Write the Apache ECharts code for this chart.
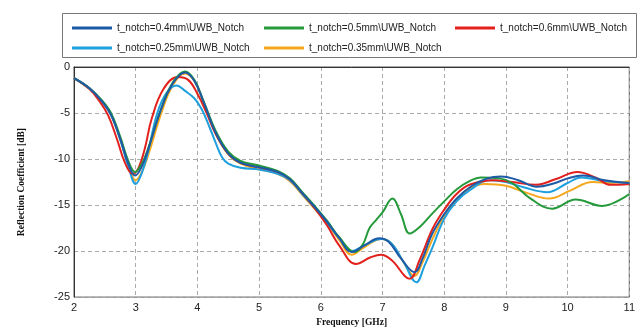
<!DOCTYPE html>
<html>
<head>
<meta charset="utf-8">
<script src="https://cdn.jsdelivr.net/npm/echarts@6/dist/echarts.min.js"></script>
<style>
  html, body { margin: 0; padding: 0; background: #fff; }
  #chart { width: 638px; height: 333px; }
</style>
</head>
<body>
<div id="chart"></div>
<script>
// frequency [GHz], reflection coefficient [dB]
const names = [
  't_notch=0.4mm\\UWB_Notch',
  't_notch=0.5mm\\UWB_Notch',
  't_notch=0.6mm\\UWB_Notch',
  't_notch=0.25mm\\UWB_Notch',
  't_notch=0.35mm\\UWB_Notch'
];

const notch04 = [
  [2, -1.2], [2.25, -2.3], [2.45, -3.7], [2.6, -5.2], [2.75, -7.8], [2.88, -10.5], [2.99, -11.8],
  [3.1, -10.8], [3.2, -9.0], [3.4, -4.8], [3.6, -1.8], [3.8, -0.6], [3.95, -1.5], [4.1, -3.8],
  [4.3, -7.2], [4.5, -9.4], [4.7, -10.4], [5.0, -10.9], [5.3, -11.4], [5.5, -12.2], [5.7, -13.7],
  [5.9, -15.2], [6.1, -16.8], [6.3, -18.6], [6.5, -20.1], [6.7, -19.4], [6.95, -18.6], [7.1, -19.0],
  [7.3, -20.8], [7.52, -22.3], [7.65, -20.8], [7.8, -18.2], [8.0, -16.0], [8.2, -14.3], [8.45, -12.9],
  [8.7, -12.1], [8.92, -11.9], [9.2, -12.3], [9.5, -13.0], [9.8, -12.6], [10.0, -12.1], [10.25, -11.8],
  [10.6, -12.3], [11, -12.6]
];

const notch05 = [
  [2, -1.2], [2.25, -2.3], [2.45, -3.6], [2.6, -5.0], [2.75, -7.6], [2.88, -10.2], [2.99, -11.4],
  [3.1, -10.5], [3.2, -8.9], [3.4, -4.8], [3.6, -1.7], [3.8, -0.5], [3.95, -1.4], [4.1, -3.7],
  [4.3, -7.0], [4.5, -9.2], [4.7, -10.2], [5.0, -10.7], [5.3, -11.3], [5.5, -12.1], [5.7, -13.6],
  [5.9, -15.1], [6.1, -16.7], [6.3, -18.5], [6.55, -20.1], [6.68, -19.3], [6.79, -17.5], [6.9, -16.6],
  [7.0, -15.8], [7.16, -14.3], [7.3, -16.0], [7.44, -18.1], [7.6, -17.4], [7.81, -15.9], [8.0, -14.6],
  [8.2, -13.3], [8.41, -12.4], [8.6, -12.0], [8.9, -12.1], [9.1, -12.6], [9.4, -14.3], [9.75, -15.4],
  [10.13, -14.4], [10.56, -15.1], [11, -13.8]
];

const notch06 = [
  [2, -1.2], [2.25, -2.4], [2.4, -3.6], [2.55, -5.2], [2.7, -7.9], [2.82, -10.3], [2.95, -11.6],
  [3.05, -10.9], [3.15, -8.8], [3.26, -5.6], [3.45, -2.4], [3.68, -1.1], [3.85, -1.4], [4.0, -2.9],
  [4.15, -5.0], [4.3, -7.3], [4.5, -9.4], [4.7, -10.4], [5.0, -10.9], [5.3, -11.4], [5.5, -12.2],
  [5.7, -13.7], [5.9, -15.3], [6.1, -17.2], [6.3, -19.4], [6.57, -21.4], [6.8, -20.7], [6.98, -20.4],
  [7.15, -21.0], [7.44, -23.0], [7.6, -21.0], [7.81, -17.6], [8.0, -15.5], [8.2, -13.8], [8.41, -12.8],
  [8.8, -12.3], [9.1, -12.5], [9.49, -12.8], [9.8, -12.2], [10.16, -11.4], [10.45, -12.0], [10.7, -12.8],
  [11, -12.7]
];

const notch025 = [
  [2, -1.2], [2.25, -2.3], [2.45, -3.7], [2.6, -5.2], [2.75, -7.9], [2.88, -10.8], [3.0, -12.7],
  [3.1, -11.5], [3.2, -9.2], [3.35, -5.0], [3.5, -2.8], [3.66, -2.0], [3.8, -2.6], [3.95, -3.4],
  [4.07, -4.6], [4.2, -6.6], [4.3, -8.3], [4.4, -9.8], [4.5, -10.5], [4.7, -10.95], [5.0, -11.15],
  [5.3, -11.6], [5.5, -12.3], [5.7, -13.8], [5.9, -15.3], [6.1, -16.9], [6.3, -18.6], [6.5, -20.0],
  [6.7, -19.4], [6.98, -18.7], [7.15, -19.2], [7.35, -21.3], [7.55, -23.4], [7.68, -21.6], [7.81, -19.6],
  [8.0, -16.5], [8.2, -14.6], [8.41, -13.4], [8.74, -12.3], [9.0, -12.5], [9.3, -13.1], [9.67, -13.6],
  [10.0, -12.6], [10.22, -12.0], [10.6, -12.4], [11, -12.6]
];

const notch035 = [
  [2, -1.2], [2.25, -2.3], [2.45, -3.7], [2.6, -5.2], [2.75, -7.9], [2.88, -10.6], [3.0, -12.3],
  [3.1, -11.4], [3.22, -9.2], [3.42, -4.9], [3.6, -2.0], [3.8, -0.7], [3.95, -1.5], [4.1, -3.9],
  [4.3, -7.3], [4.5, -9.5], [4.7, -10.5], [5.0, -11.1], [5.3, -11.6], [5.5, -12.4], [5.7, -13.9],
  [5.9, -15.4], [6.1, -17.0], [6.3, -18.8], [6.5, -20.4], [6.7, -19.6], [6.98, -18.7], [7.15, -19.2],
  [7.32, -21.0], [7.52, -22.7], [7.65, -21.2], [7.81, -18.7], [8.0, -16.2], [8.2, -14.4], [8.41, -13.2],
  [8.66, -12.7], [9.0, -12.9], [9.35, -13.7], [9.7, -14.3], [10.05, -13.4], [10.4, -12.5], [10.7, -12.6],
  [11, -12.4]
];

const colors = ['#1d5aa6', '#259a3a', '#e2211c', '#1ea0de', '#f5a81e'];
const seriesData = [notch04, notch05, notch06, notch025, notch035];
const drawOrder = [4, 3, 2, 1, 0];

const chart = echarts.init(document.getElementById('chart'), null, { renderer: 'canvas' });

const legendBase = {
  orient: 'horizontal',
  itemWidth: 40,
  itemHeight: 3,
  textStyle: {
    fontFamily: 'Liberation Sans, Arial, sans-serif',
    fontSize: 10,
    color: '#222'
  },
  selectedMode: false
};

// one legend per entry so the two rows line up like the original box
const legendPos = [
  { left: 67, top: 18 },
  { left: 259, top: 18 },
  { left: 450, top: 18 },
  { left: 67, top: 38 },
  { left: 259, top: 38 }
];

const option = {
  backgroundColor: '#fff',
  animation: false,
  graphic: [
    {
      type: 'rect',
      shape: { x: 62.5, y: 13.5, width: 574, height: 44 },
      style: { fill: 'none', stroke: '#777', lineWidth: 1 },
      silent: true
    }
  ],
  legend: names.map((n, i) => Object.assign({}, legendBase, legendPos[i], {
    data: [{ name: n, icon: 'path://M0,0H40V3H0Z', itemStyle: { color: colors[i] } }]
  })),
  grid: {
    left: 74,
    right: 8,
    top: 67,
    bottom: 30,
    show: true,
    borderColor: '#555',
    borderWidth: 1
  },
  xAxis: {
    type: 'value',
    min: 2,
    max: 11,
    interval: 1,
    name: 'Frequency [GHz]',
    nameLocation: 'middle',
    nameGap: 17,
    nameTextStyle: {
      fontFamily: 'Liberation Serif, Times New Roman, serif',
      fontWeight: 'bold',
      fontSize: 9.5,
      color: '#111'
    },
    axisLine: { lineStyle: { color: '#333', width: 1 } },
    axisTick: { show: false },
    axisLabel: {
      fontFamily: 'Liberation Sans, Arial, sans-serif',
      fontSize: 11,
      color: '#222',
      margin: 5
    },
    splitLine: { lineStyle: { color: '#aaa', type: [4, 3], width: 1 } }
  },
  yAxis: {
    type: 'value',
    min: -25,
    max: 0,
    interval: 5,
    name: 'Reflection Coefficient [dB]',
    nameLocation: 'middle',
    nameGap: 47,
    nameTextStyle: {
      fontFamily: 'Liberation Serif, Times New Roman, serif',
      fontWeight: 'bold',
      fontSize: 9.5,
      color: '#111'
    },
    axisLine: { show: true, lineStyle: { color: '#333', width: 1 } },
    axisTick: { show: false },
    axisLabel: {
      fontFamily: 'Liberation Sans, Arial, sans-serif',
      fontSize: 11,
      color: '#222',
      margin: 4
    },
    splitLine: { lineStyle: { color: '#aaa', type: [4, 3], width: 1 } }
  },
  series: drawOrder.map(i => ({
    name: names[i],
    type: 'line',
    data: seriesData[i],
    smooth: 0.4,
    symbol: 'none',
    lineStyle: { color: colors[i], width: 2 },
    itemStyle: { color: colors[i] },
    z: 2
  }))
};

chart.setOption(option);
</script>
</body>
</html>
